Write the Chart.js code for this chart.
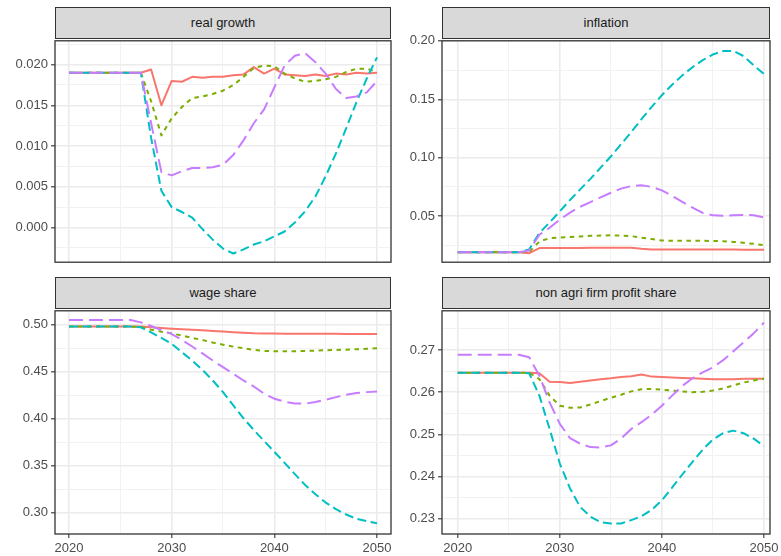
<!DOCTYPE html>
<html>
<head>
<meta charset="utf-8">
<script src="https://cdn.jsdelivr.net/npm/chart.js@4.4.0/dist/chart.umd.min.js"></script>
<style>
  body { margin: 0; background: #fff; }
  #wrap { position: relative; width: 781px; height: 556px; overflow: hidden; background: #fff; }
  canvas { position: absolute; }
  .strip {
    position: absolute; box-sizing: border-box; height: 32px;
    background: #d9d9d9; border: 1px solid #333;
    font: 13px "Liberation Sans", Arial, sans-serif; color: #1a1a1a;
    text-align: center; line-height: 30px;
  }
</style>
</head>
<body>
<div id="wrap"></div>
<script>
// Years on the x axis
const years = [2020, 2021, 2022, 2023, 2024, 2025, 2026, 2027, 2028, 2029, 2030, 2031, 2032, 2033, 2034, 2035,
  2036, 2037, 2038, 2039, 2040, 2041, 2042, 2043, 2044, 2045, 2046, 2047, 2048, 2049, 2050];

// Panel titles
const panelTitles = ['real growth', 'inflation', 'wage share', 'non agri firm profit share'];

// real growth, one array per scenario
const growth1 = [0.019, 0.019, 0.019, 0.019, 0.019, 0.019, 0.019, 0.019,
  0.0194, 0.0150, 0.0180, 0.0179, 0.0185, 0.0184, 0.0185, 0.0185, 0.0187, 0.0188,
  0.0197, 0.0189, 0.0195, 0.0188, 0.0187, 0.0186, 0.0188, 0.0186, 0.0189, 0.0188,
  0.0190, 0.0189, 0.0190];
const growth2 = [0.019, 0.019, 0.019, 0.019, 0.019, 0.019, 0.019, 0.019,
  0.0155, 0.0113, 0.0134, 0.0148, 0.0159, 0.0161, 0.0164, 0.0168, 0.0175, 0.0185,
  0.0196, 0.0199, 0.0198, 0.0189, 0.0183, 0.0179, 0.0180, 0.0182, 0.0185, 0.0191,
  0.0195, 0.0195, 0.0191];
const growth3 = [0.019, 0.019, 0.019, 0.019, 0.019, 0.019, 0.019, 0.019,
  0.0110, 0.0045, 0.0025, 0.0019, 0.0012, -0.0002, -0.0015, -0.0026, -0.0032, -0.0027,
  -0.0021, -0.0017, -0.0011, -0.0005, 0.0006, 0.0020, 0.0038, 0.0063, 0.0091, 0.0122,
  0.0154, 0.0183, 0.0209];
const growth4 = [0.019, 0.019, 0.019, 0.019, 0.019, 0.019, 0.019, 0.019,
  0.0128, 0.0068, 0.0064, 0.0069, 0.0073, 0.0073, 0.0074, 0.0077, 0.0089, 0.0107,
  0.0128, 0.0145, 0.0172, 0.0199, 0.0211, 0.0214, 0.0203, 0.0189, 0.0170, 0.0159,
  0.0161, 0.0166, 0.0180];

// inflation
const inflation1 = [0.019, 0.019, 0.019, 0.019, 0.019, 0.019, 0.019, 0.0182,
  0.0226, 0.0226, 0.0226, 0.0227, 0.0227, 0.0228, 0.0228, 0.0229, 0.0229, 0.0228,
  0.0220, 0.0214, 0.0214, 0.0214, 0.0213, 0.0213, 0.0213, 0.0213, 0.0213, 0.0213,
  0.0212, 0.0212, 0.0212];
const inflation2 = [0.019, 0.019, 0.019, 0.019, 0.019, 0.019, 0.019, 0.0193,
  0.0282, 0.0311, 0.0316, 0.0321, 0.0326, 0.0331, 0.0333, 0.0335, 0.0333, 0.0328,
  0.0315, 0.0303, 0.0291, 0.0289, 0.0288, 0.0288, 0.0288, 0.0287, 0.0284, 0.0279,
  0.0271, 0.0262, 0.0250];
const inflation3 = [0.019, 0.019, 0.019, 0.019, 0.019, 0.019, 0.019, 0.0215,
  0.0355, 0.0446, 0.0540, 0.0638, 0.0729, 0.0819, 0.0915, 0.1010, 0.1115, 0.1220,
  0.1330, 0.1435, 0.1535, 0.1625, 0.1705, 0.1775, 0.1835, 0.1884, 0.1913, 0.1915,
  0.1870, 0.1790, 0.1717];
const inflation4 = [0.019, 0.019, 0.019, 0.019, 0.019, 0.019, 0.019, 0.0205,
  0.0340, 0.0400, 0.0470, 0.0530, 0.0580, 0.0620, 0.0660, 0.0700, 0.0735, 0.0757,
  0.0763, 0.0750, 0.0720, 0.0672, 0.0621, 0.0573, 0.0527, 0.0506, 0.0503, 0.0507,
  0.0510, 0.0507, 0.0489];

// wage share
const wage1 = [0.498, 0.498, 0.498, 0.498, 0.498, 0.498, 0.498, 0.498,
  0.4972, 0.4965, 0.4958, 0.4952, 0.4947, 0.4940, 0.4933, 0.4927, 0.4921, 0.4915,
  0.4908, 0.4907, 0.4906, 0.4905, 0.4905, 0.4904, 0.4904, 0.4903, 0.4903, 0.4902,
  0.4902, 0.4901, 0.4900];
const wage2 = [0.498, 0.498, 0.498, 0.498, 0.498, 0.498, 0.498, 0.4975,
  0.4947, 0.4926, 0.4908, 0.4884, 0.4859, 0.4838, 0.4810, 0.4788, 0.4767, 0.4749,
  0.4732, 0.4721, 0.4718, 0.4718, 0.4718, 0.4720, 0.4725, 0.4728, 0.4732, 0.4735,
  0.4739, 0.4744, 0.4749];
const wage3 = [0.498, 0.498, 0.498, 0.498, 0.498, 0.498, 0.498, 0.4972,
  0.4918, 0.4859, 0.4796, 0.4707, 0.4619, 0.4520, 0.4407, 0.4283, 0.4142, 0.4005,
  0.3880, 0.3764, 0.3648, 0.3531, 0.3411, 0.3295, 0.3197, 0.3108, 0.3038, 0.2981,
  0.2935, 0.2911, 0.2888];
const wage4 = [0.505, 0.505, 0.505, 0.505, 0.505, 0.505, 0.505, 0.5025,
  0.4986, 0.4944, 0.4901, 0.4838, 0.4768, 0.4695, 0.4619, 0.4548, 0.4478, 0.4407,
  0.4343, 0.4266, 0.4213, 0.4181, 0.4163, 0.4160, 0.4177, 0.4202, 0.4230, 0.4255,
  0.4273, 0.4283, 0.4290];

// non agri firm profit share
const profit1 = [0.2646, 0.2646, 0.2646, 0.2646, 0.2646, 0.2646, 0.2646, 0.2646,
  0.2645, 0.2625, 0.2624, 0.2622, 0.2625, 0.2628, 0.2631, 0.2633, 0.2636, 0.2638,
  0.2642, 0.2637, 0.2636, 0.2635, 0.2634, 0.2633, 0.2632, 0.2631, 0.2631, 0.2631,
  0.2632, 0.2632, 0.2632];
const profit2 = [0.2646, 0.2646, 0.2646, 0.2646, 0.2646, 0.2646, 0.2646, 0.2646,
  0.2631, 0.2592, 0.2568, 0.2563, 0.2564, 0.2571, 0.2579, 0.2587, 0.2594, 0.2602,
  0.2607, 0.2608, 0.2606, 0.2604, 0.2602, 0.2600, 0.2601, 0.2604, 0.2609, 0.2616,
  0.2623, 0.2628, 0.2632];
const profit3 = [0.2646, 0.2646, 0.2646, 0.2646, 0.2646, 0.2646, 0.2646, 0.2645,
  0.2592, 0.2513, 0.2431, 0.2372, 0.2328, 0.2305, 0.2292, 0.2289, 0.2289, 0.2297,
  0.2306, 0.2321, 0.2344, 0.2374, 0.2405, 0.2435, 0.2464, 0.2488, 0.2503, 0.2509,
  0.2503, 0.2490, 0.2472];
const profit4 = [0.2689, 0.2689, 0.2689, 0.2689, 0.2689, 0.2689, 0.2689, 0.2683,
  0.2639, 0.2576, 0.2525, 0.2491, 0.2478, 0.2470, 0.2469, 0.2474, 0.2490, 0.2513,
  0.2529, 0.2547, 0.2568, 0.2592, 0.2615, 0.2633, 0.2647, 0.2659, 0.2676, 0.2697,
  0.2718, 0.2740, 0.2765];

// Tick values and labels
const xTicks = [2020, 2030, 2040, 2050];
const xMinor = [2025, 2035, 2045];
const xLabels = ['2020', '2030', '2040', '2050'];
const growthTicks = [0, 0.005, 0.01, 0.015, 0.02];
const growthMinor = [-0.0025, 0.0025, 0.0075, 0.0125, 0.0175, 0.0225];
const growthLabels = ['0.000', '0.005', '0.010', '0.015', '0.020'];
const inflationTicks = [0.05, 0.10, 0.15, 0.20];
const inflationMinor = [0.025, 0.075, 0.125, 0.175];
const inflationLabels = ['0.05', '0.10', '0.15', '0.20'];
const wageTicks = [0.30, 0.35, 0.40, 0.45, 0.50];
const wageMinor = [0.325, 0.375, 0.425, 0.475];
const wageLabels = ['0.30', '0.35', '0.40', '0.45', '0.50'];
const profitTicks = [0.23, 0.24, 0.25, 0.26, 0.27];
const profitMinor = [0.235, 0.245, 0.255, 0.265, 0.275];
const profitLabels = ['0.23', '0.24', '0.25', '0.26', '0.27'];

// Look of the four scenarios (ggplot hue palette)
const seriesColors = ['#F8766D', '#7CAE00', '#00BFC4', '#C77CFF'];
const seriesDash = [[], [4.5, 4.5], [9, 4.5], [14, 6]];

Chart.defaults.font.family = '"Liberation Sans", Arial, sans-serif';
Chart.defaults.font.size = 13;

const wrap = document.getElementById('wrap');

// Dark frame around each panel, like theme_bw
const panelBorder = {
  id: 'panelBorder',
  afterDraw(chart) {
    const a = chart.chartArea;
    const ctx = chart.ctx;
    ctx.save();
    ctx.strokeStyle = '#333333';
    ctx.lineWidth = 1.3;
    ctx.strokeRect(a.left, a.top, a.right - a.left, a.bottom - a.top);
    ctx.restore();
  }
};

function near(list, v) {
  return list.findIndex(t => Math.abs(t - v) < 1e-9);
}

function addStrip(text, left, top, width) {
  const d = document.createElement('div');
  d.className = 'strip';
  d.style.left = left + 'px';
  d.style.top = top + 'px';
  d.style.width = width + 'px';
  d.innerText = text;
  wrap.appendChild(d);
}

function makePanel(p) {
  const padT = 10, padR = 14, padB = 10;
  const axisH = p.showX ? 22 : 0;
  const canvas = document.createElement('canvas');
  canvas.width = p.axisW + p.w + padR;
  canvas.height = padT + p.h + (p.showX ? axisH : padB);
  canvas.style.left = (p.left - p.axisW) + 'px';
  canvas.style.top = (p.top - padT) + 'px';
  wrap.appendChild(canvas);

  addStrip(p.title, p.left, p.top - 33, p.w);

  const datasets = p.series.map((vals, i) => ({
    label: 'scenario ' + (i + 1),
    data: years.map((yr, j) => ({ x: yr, y: vals[j] })),
    borderColor: seriesColors[i],
    borderDash: seriesDash[i],
    borderWidth: 2,
    borderJoinStyle: 'round',
    pointRadius: 0,
    tension: 0,
    fill: false,
    order: 4 - i
  }));

  new Chart(canvas, {
    type: 'line',
    data: { datasets: datasets },
    options: {
      responsive: false,
      animation: false,
      devicePixelRatio: 1,
      layout: { padding: { top: padT, right: padR, bottom: p.showX ? 0 : padB, left: 0 } },
      plugins: { legend: { display: false }, tooltip: { enabled: false } },
      scales: {
        x: {
          type: 'linear',
          min: p.xMin,
          max: p.xMax,
          afterBuildTicks: s => { s.ticks = xTicks.concat(xMinor).sort((a, b) => a - b).map(v => ({ value: v })); },
          afterFit: s => { s.height = axisH; },
          ticks: {
            display: p.showX,
            autoSkip: false,
            maxRotation: 0,
            padding: 3,
            color: '#4d4d4d',
            callback: v => { const k = near(xTicks, v); return k >= 0 ? xLabels[k] : ''; }
          },
          grid: {
            drawTicks: p.showX,
            tickLength: 4,
            tickWidth: 1.1,
            tickColor: c => near(xMinor, c.tick.value) >= 0 ? 'rgba(0,0,0,0)' : '#333333',
            color: c => near(xMinor, c.tick.value) >= 0 ? '#f2f2f2' : '#ebebeb',
            lineWidth: c => near(xMinor, c.tick.value) >= 0 ? 1 : 1.6
          },
          border: { display: false }
        },
        y: {
          type: 'linear',
          min: p.yMin,
          max: p.yMax,
          afterBuildTicks: s => { s.ticks = p.yTicks.concat(p.yMinor).sort((a, b) => a - b).map(v => ({ value: v })); },
          afterFit: s => { s.width = p.axisW; },
          ticks: {
            autoSkip: false,
            padding: 3,
            color: '#4d4d4d',
            callback: v => { const k = near(p.yTicks, v); return k >= 0 ? p.yLabels[k] : ''; }
          },
          grid: {
            tickLength: 4,
            tickWidth: 1.1,
            tickColor: c => near(p.yMinor, c.tick.value) >= 0 ? 'rgba(0,0,0,0)' : '#333333',
            color: c => near(p.yMinor, c.tick.value) >= 0 ? '#f2f2f2' : '#ebebeb',
            lineWidth: c => near(p.yMinor, c.tick.value) >= 0 ? 1 : 1.6
          },
          border: { display: false }
        }
      }
    },
    plugins: [panelBorder]
  });
}

makePanel({
  title: panelTitles[0], left: 55, top: 40, w: 336, h: 223, axisW: 55, showX: false,
  xMin: 2018.64, xMax: 2051.36, yMin: -0.00427, yMax: 0.02293,
  yTicks: growthTicks, yMinor: growthMinor, yLabels: growthLabels,
  series: [growth1, growth2, growth3, growth4]
});
makePanel({
  title: panelTitles[1], left: 442, top: 40, w: 328, h: 223, axisW: 47, showX: false,
  xMin: 2018.46, xMax: 2050.59, yMin: 0.0105, yMax: 0.2001,
  yTicks: inflationTicks, yMinor: inflationMinor, yLabels: inflationLabels,
  series: [inflation1, inflation2, inflation3, inflation4]
});
makePanel({
  title: panelTitles[2], left: 55, top: 310, w: 336, h: 224, axisW: 55, showX: true,
  xMin: 2018.64, xMax: 2051.36, yMin: 0.2774, yMax: 0.5148,
  yTicks: wageTicks, yMinor: wageMinor, yLabels: wageLabels,
  series: [wage1, wage2, wage3, wage4]
});
makePanel({
  title: panelTitles[3], left: 442, top: 310, w: 328, h: 224, axisW: 47, showX: true,
  xMin: 2018.46, xMax: 2050.59, yMin: 0.2264, yMax: 0.2793,
  yTicks: profitTicks, yMinor: profitMinor, yLabels: profitLabels,
  series: [profit1, profit2, profit3, profit4]
});
</script>
</body>
</html>
